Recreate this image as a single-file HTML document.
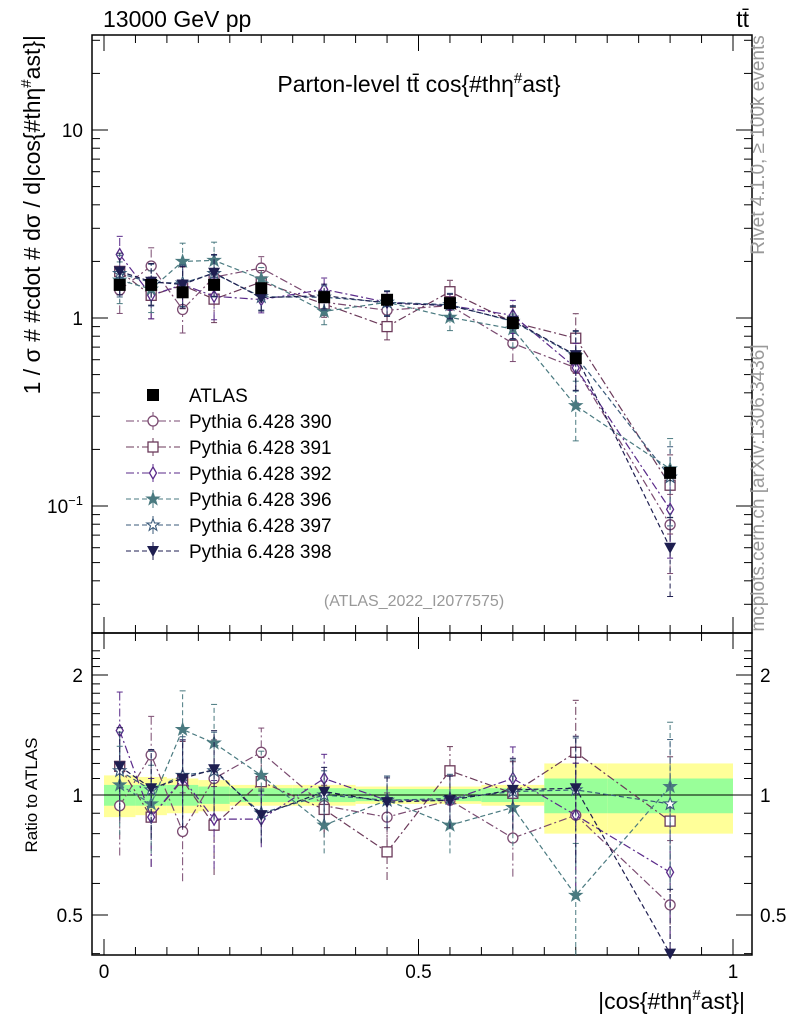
<!DOCTYPE html>
<html><head><meta charset="utf-8"><style>
body{margin:0;background:#fff}
svg text{font-family:"Liberation Sans",sans-serif}
</style></head><body>
<svg id="c" width="786" height="1024" viewBox="0 0 786 1024">
</svg>
<script>
const binEdges=[0,0.05,0.1,0.15,0.2,0.3,0.4,0.5,0.6,0.7,0.8,1.0];
const atlas=[1.5,1.5,1.37,1.5,1.44,1.29,1.25,1.2,0.94,0.61,0.15];
const atlasErr=[0.04,0.04,0.04,0.04,0.03,0.03,0.03,0.03,0.03,0.06,0.1];
const bandStat=[0.06,0.06,0.06,0.05,0.04,0.04,0.035,0.035,0.04,0.1,0.1];
const bandTot=[0.12,0.11,0.1,0.09,0.06,0.06,0.05,0.05,0.06,0.2,0.2];
const mcErr=[0.25,0.25,0.25,0.25,0.15,0.15,0.15,0.15,0.2,0.35,0.45];
const r390=[0.94,1.26,0.81,1.1,1.28,0.94,0.88,0.97,0.78,0.89,0.53];
const r391=[1.18,0.88,1.09,0.84,1.08,0.92,0.72,1.15,1.01,1.28,0.86];
const r392=[1.45,0.88,1.1,0.87,0.87,1.1,0.97,0.97,1.1,0.89,0.64];
const r396=[1.06,0.95,1.46,1.35,1.12,0.84,0.97,0.84,0.93,0.56,1.05];
const r397=[1.15,1.03,1.12,1.15,0.9,1.0,0.97,0.98,1.02,1.03,0.95];
const r398=[1.18,1.04,1.1,1.16,0.89,1.02,0.96,0.97,1.03,1.04,0.4];
const series=[
 {name:"Pythia 6.428 390",r:r390,c:"#7a4a70",d:"8,3,2,3",m:"circle"},
 {name:"Pythia 6.428 391",r:r391,c:"#6b3a5a",d:"8,3,2,3",m:"square"},
 {name:"Pythia 6.428 392",r:r392,c:"#5a2a8a",d:"8,3,2,3",m:"diamond"},
 {name:"Pythia 6.428 396",r:r396,c:"#4a7a80",d:"5,3",m:"star"},
 {name:"Pythia 6.428 397",r:r397,c:"#3a5a7a",d:"5,3",m:"ostar"},
 {name:"Pythia 6.428 398",r:r398,c:"#1e1e50",d:"5,3",m:"tri"}];
const svg=document.getElementById('c');const NS="http://www.w3.org/2000/svg";
function el(t,a,p){const e=document.createElementNS(NS,t);for(const k in a)e.setAttribute(k,a[k]);(p||svg).appendChild(e);return e;}
const L=92,R=752,T=35,B=633,RB=955;
const X=v=>104+v*629;
const Y=v=>318-188*Math.log10(v);
const YR=v=>795-120*Math.log2(v);
const cen=binEdges.slice(0,-1).map((e,i)=>(e+binEdges[i+1])/2);
const gB=el('g',{});
for(let i=0;i<cen.length;i++){
 const x1=X(binEdges[i]),x2=X(binEdges[i+1]);
 el('rect',{x:x1,y:YR(1+bandTot[i]),width:x2-x1,height:YR(1-bandTot[i])-YR(1+bandTot[i]),fill:"#ffff99"},gB);
 el('rect',{x:x1,y:YR(1+bandStat[i]),width:x2-x1,height:YR(1-bandStat[i])-YR(1+bandStat[i]),fill:"#99ff99"},gB);
}
el('line',{x1:L,x2:R,y1:YR(1),y2:YR(1),stroke:"#000","stroke-width":1});
const f1=el('rect',{x:L,y:T,width:R-L,height:B-T,fill:"none",stroke:"#000","stroke-width":1.5});

const f2=el('rect',{x:L,y:B,width:R-L,height:RB-B,fill:"none",stroke:"#000","stroke-width":1.5});

function txt(s,x,y,a){const t=el('text',Object.assign({x:x,y:y,"font-size":19},a||{}));t.textContent=s;return t;}
for(let d=-2;d<=1;d++){for(let k=1;k<10;k++){const v=k*Math.pow(10,d);const y=Y(v);if(y<T||y>B)continue;const len=k==1?16:8;
 el('line',{x1:L,x2:L+len,y1:y,y2:y,stroke:"#000"});el('line',{x1:R,x2:R-len,y1:y,y2:y,stroke:"#000"});}}
let t=txt("10",83,Y(10)+7,{"text-anchor":"end"});
t=txt("1",83,Y(1)+7,{"text-anchor":"end"});
t=el('text',{x:83,y:Y(0.1)+7,"font-size":19,"text-anchor":"end"});t.innerHTML='10<tspan dy="-8" font-size="13">−1</tspan>';

for(const v of [0.4,0.5,0.6,0.7,0.8,0.9,1,1.1,1.2,1.3,1.4,1.5,1.6,1.7,1.8,1.9,2,2.1,2.2,2.3]){const y=YR(v);if(y<B||y>RB)continue;const len=(v==0.5||v==1||v==2)?16:8;
 el('line',{x1:L,x2:L+len,y1:y,y2:y,stroke:"#000"});el('line',{x1:R,x2:R-len,y1:y,y2:y,stroke:"#000"});}
for(const v of [2,1,0.5]){let a=txt(String(v),83,YR(v)+7,{"text-anchor":"end"});
 let b=txt(String(v),760,YR(v)+7,{});}
for(let i=0;i<=20;i++){const v=i*0.05;const x=X(v);const len=i%10==0?16:8;
 el('line',{x1:x,x2:x,y1:RB,y2:RB-len,stroke:"#000"});el('line',{x1:x,x2:x,y1:B,y2:B-len,stroke:"#000"});el('line',{x1:x,x2:x,y1:B,y2:B+len,stroke:"#000"});el('line',{x1:x,x2:x,y1:T,y2:T+len,stroke:"#000"});}
for(const v of [0,0.5,1]){let a=txt(String(v),X(v),978,{"text-anchor":"middle"});}
t=el('text',{x:745,y:1009,"font-size":23,"text-anchor":"end"});t.innerHTML='|cos{#thη<tspan dy="-9" font-size="15">#</tspan><tspan dy="9">ast}|</tspan>';
t=el('text',{x:0,y:0,"font-size":23,"text-anchor":"end",transform:"translate(40,35) rotate(-90)"});t.innerHTML='1 / σ # #cdot # dσ / d|cos{#thη<tspan dy="-9" font-size="15">#</tspan><tspan dy="9">ast}|</tspan>';
t=el('text',{x:0,y:0,"font-size":17,"text-anchor":"middle",transform:"translate(37,795) rotate(-90)"});t.textContent="Ratio to ATLAS";
t=txt("13000 GeV pp",103,27,{"font-size":23});
t=txt("tt̄",749,27,{"text-anchor":"end","font-size":23});
t=el('text',{x:419,y:92,"font-size":23,"text-anchor":"middle"});t.innerHTML='Parton-level tt̄ cos{#thη<tspan dy="-9" font-size="15">#</tspan><tspan dy="9">ast}</tspan>';
t=el('text',{x:0,y:0,"font-size":19,fill:"#999","text-anchor":"middle",transform:"translate(764,145) rotate(-90)"});t.textContent="Rivet 4.1.0, ≥ 100k events";
t=el('text',{x:0,y:0,"font-size":19,fill:"#999","text-anchor":"middle",transform:"translate(764,488) rotate(-90)"});t.textContent="mcplots.cern.ch [arXiv:1306.3436]";
t=txt("(ATLAS_2022_I2077575)",414,606,{"text-anchor":"middle","font-size":16,fill:"#999"});
function marker(g,m,x,y,c){
 if(m=="circle")el('circle',{cx:x,cy:y,r:5,fill:"#fff",stroke:c,"stroke-width":1.3},g);
 else if(m=="square")el('rect',{x:x-5,y:y-5,width:10,height:10,fill:"#fff",stroke:c,"stroke-width":1.3},g);
 else if(m=="diamond")el('polygon',{points:`${x},${y-6} ${x+3.5},${y} ${x},${y+6} ${x-3.5},${y}`,fill:"#fff",stroke:c,"stroke-width":1.3},g);
 else if(m=="tri")el('polygon',{points:`${x-6},${y-5} ${x+6},${y-5} ${x},${y+6}`,fill:c},g);
 else if(m=="atlas")el('rect',{x:x-6,y:y-6,width:12,height:12,fill:"#000"},g);
 else{let p=[];for(let k=0;k<10;k++){const rr=k%2?2.6:6.5;const a=-Math.PI/2+k*Math.PI/5;p.push((x+rr*Math.cos(a)).toFixed(1)+","+(y+rr*Math.sin(a)).toFixed(1));}
  el('polygon',{points:p.join(' '),fill:m=="star"?c:"#fff",stroke:c,"stroke-width":1.1},g);}
}
series.forEach((s,si)=>{
 const g=el('g',{});
 const vals=s.r.map((r,i)=>r*atlas[i]);
 el('polyline',{points:cen.map((c,i)=>X(c)+","+Y(vals[i])).join(' '),fill:"none",stroke:s.c,"stroke-dasharray":s.d,"stroke-width":1.2},g);
 el('polyline',{points:cen.map((c,i)=>X(c)+","+YR(s.r[i])).join(' '),fill:"none",stroke:s.c,"stroke-dasharray":s.d,"stroke-width":1.2},g);
 cen.forEach((c,i)=>{const x=X(c);const e=mcErr[i];
  const lo=Math.max(vals[i]*(1-e),0.022),hi=vals[i]*(1+e);
  el('line',{x1:x,x2:x,y1:Y(lo),y2:Y(hi),stroke:s.c,"stroke-dasharray":s.d},g);
  el('line',{x1:x-3,x2:x+3,y1:Y(lo),y2:Y(lo),stroke:s.c},g);el('line',{x1:x-3,x2:x+3,y1:Y(hi),y2:Y(hi),stroke:s.c},g);
  const rl=Math.max(s.r[i]*(1-e),0.38),rh=s.r[i]*(1+e);
  el('line',{x1:x,x2:x,y1:Math.min(YR(rl),RB),y2:YR(rh),stroke:s.c,"stroke-dasharray":s.d},g);
  el('line',{x1:x-3,x2:x+3,y1:YR(rh),y2:YR(rh),stroke:s.c},g);
  marker(g,s.m,x,Y(vals[i]),s.c);marker(g,s.m,x,Math.min(YR(s.r[i]),RB),s.c);
 });
});
const ga=el('g',{});
cen.forEach((c,i)=>{const x=X(c);el('line',{x1:x,x2:x,y1:Y(atlas[i]*(1-atlasErr[i])),y2:Y(atlas[i]*(1+atlasErr[i])),stroke:"#000"},ga);marker(ga,"atlas",x,Y(atlas[i]),"#000");});
const lg=el('g',{});
marker(lg,"atlas",153,395,"#000");let lt=txt("ATLAS",189,402,{"font-size":19});lg.appendChild(lt);
series.forEach((s,i)=>{const y=421+26*i;
 el('line',{x1:126,x2:180,y1:y,y2:y,stroke:s.c,"stroke-dasharray":s.d},lg);
 el('line',{x1:153,x2:153,y1:y-9,y2:y+9,stroke:s.c},lg);
 marker(lg,s.m,153,y,s.c);
 const tt=txt(s.name,189,y+7,{"font-size":19});lg.appendChild(tt);});
</script>
</body></html>
